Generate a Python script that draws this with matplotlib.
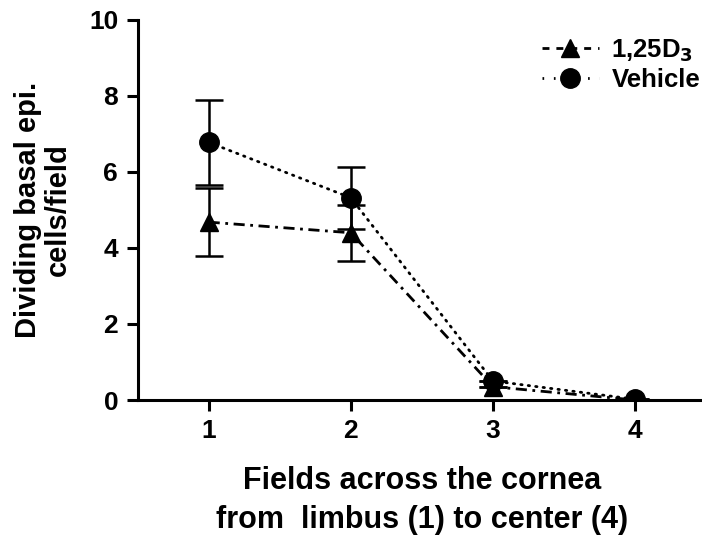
import matplotlib
matplotlib.use("Agg")
import matplotlib.pyplot as plt
from matplotlib.lines import Line2D

fields = [1, 2, 3, 4]
d3_mean = [4.68, 4.40, 0.35, 0.0]
d3_err = [0.90, 0.74, 0.0, 0.0]
veh_mean = [6.78, 5.32, 0.50, 0.02]
veh_err = [1.12, 0.82, 0.0, 0.0]
xticks = [1, 2, 3, 4]
yticks = [0, 2, 4, 6, 8, 10]

plt.rcParams['font.family'] = ['Liberation Sans', 'DejaVu Sans']
plt.rcParams['font.weight'] = 'bold'

fig = plt.figure(figsize=(7.02, 5.38), dpi=100)
ax = fig.add_axes([0.196, 0.2565, 0.81, 0.7065])

veh_ls = (0, (0.5, 2.2))
d3_ls = (0, (4, 2, 1, 2))
ax.errorbar(fields, d3_mean, yerr=d3_err, fmt='^', ls=d3_ls, color='black',
            lw=2.0, ms=13, capsize=10, elinewidth=1.8, capthick=1.8, zorder=3)
ax.errorbar(fields, veh_mean, yerr=veh_err, fmt='o', ls=veh_ls, color='black',
            lw=2.0, ms=14, capsize=10, elinewidth=1.8, capthick=1.8,
            dash_capstyle='round', zorder=4)

ax.set_xlim(0.5, 4.5)
ax.set_ylim(0, 10)
ax.set_xticks(xticks)
ax.set_yticks(yticks)
ax.tick_params(labelsize=19, width=2.2, length=8, pad=6)
for lab in ax.get_xticklabels() + ax.get_yticklabels():
    lab.set_fontweight('bold')
for s in ['top', 'right']:
    ax.spines[s].set_visible(False)
for s in ['left', 'bottom']:
    ax.spines[s].set_linewidth(2.2)

ax.set_ylabel('Dividing basal epi.\ncells/field', fontsize=21, fontweight='bold',
              labelpad=12, linespacing=1.1)
ax.set_xlabel('Fields across the cornea\nfrom  limbus (1) to center (4)', fontsize=22,
              fontweight='bold', labelpad=16, linespacing=1.4)

handles = [
    Line2D([], [], color='black', marker='^', ms=13, lw=2.0, ls=(0, (2.5, 2.5))),
    Line2D([], [], color='black', marker='o', ms=14, lw=2.0, ls=(0, (0.6, 3.5))),
]
labels = ['1,25D$_3$', 'Vehicle']
ax.legend(handles, labels, loc='upper right', bbox_to_anchor=(1.03, 1.015),
          frameon=False, handlelength=2.2, handletextpad=0.5, labelspacing=0.15,
          prop={'weight': 'bold', 'size': 18.5})

fig.savefig('out.png', dpi=100)
